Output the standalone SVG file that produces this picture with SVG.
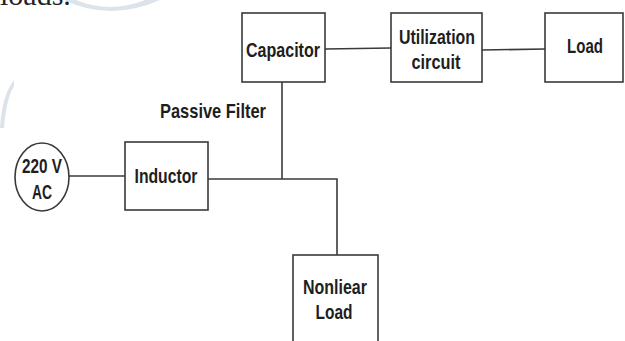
<svg xmlns="http://www.w3.org/2000/svg" width="625" height="341" viewBox="0 0 625 341">
<style>
.box{fill:#fff;stroke:#3a3a3a;stroke-width:1.6}
.wire{fill:none;stroke:#3a3a3a;stroke-width:1.6}
.t{font-family:"Liberation Sans",Arial,sans-serif;font-weight:bold;font-size:21px;fill:#1e1e1e;text-anchor:middle}
</style>
<rect width="625" height="341" fill="#fff"/>
<g id="watermark" fill="#dde3ea">
<path d="M64 0 Q110 22 160 0 L145 0 Q110 14 76 0 Z"/>
<path d="M0 128 Q2 95 14 80 L14 86 Q6 100 4 128 Z"/>
</g>
<text x="0" y="5" font-family="Liberation Serif, serif" font-size="30" fill="#222">loads.</text>
<g id="connectors">
<line class="wire" x1="68" y1="176" x2="125" y2="176"/>
<polyline class="wire" points="208,179 337,179 337,255"/>
<line class="wire" x1="282" y1="82" x2="282" y2="179"/>
<line class="wire" x1="325" y1="49" x2="391" y2="48"/>
<line class="wire" x1="482" y1="50" x2="545" y2="49"/>
</g>
<g id="source"><ellipse class="box" cx="42" cy="177" rx="27" ry="34"/>
<text class="t" x="42" y="173" textLength="40" lengthAdjust="spacingAndGlyphs">220 V</text><text class="t" x="42" y="199" textLength="20" lengthAdjust="spacingAndGlyphs">AC</text></g>
<g id="inductor"><rect class="box" x="125" y="142" width="83" height="68"/>
<text class="t" x="166" y="183" textLength="63" lengthAdjust="spacingAndGlyphs">Inductor</text></g>
<g id="capacitor"><rect class="box" x="242" y="13" width="83" height="69"/>
<text class="t" x="283" y="57" textLength="74" lengthAdjust="spacingAndGlyphs">Capacitor</text></g>
<g id="utilization"><rect class="box" x="391" y="13" width="91" height="69"/>
<text class="t" x="437" y="44" textLength="76" lengthAdjust="spacingAndGlyphs">Utilization</text><text class="t" x="436" y="69" textLength="49" lengthAdjust="spacingAndGlyphs">circuit</text></g>
<g id="load"><rect class="box" x="545" y="13" width="78" height="69"/>
<text class="t" x="585" y="53" textLength="36" lengthAdjust="spacingAndGlyphs">Load</text></g>
<g id="nonlinear"><rect class="box" x="293" y="255" width="85" height="95"/>
<text class="t" x="335" y="294" textLength="64" lengthAdjust="spacingAndGlyphs">Nonliear</text><text class="t" x="334" y="319" textLength="37" lengthAdjust="spacingAndGlyphs">Load</text></g>
<g id="passive-label"><text class="t" x="213" y="118" textLength="106" lengthAdjust="spacingAndGlyphs">Passive Filter</text></g>
</svg>
